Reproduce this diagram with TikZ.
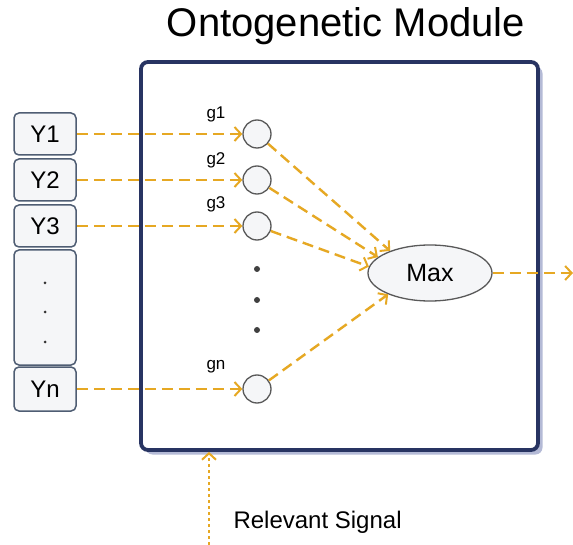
\documentclass[tikz,border=0pt]{standalone}
\usepackage{fontspec}
\setmainfont{Liberation Sans}
\usetikzlibrary{arrows.meta,shapes.geometric,shadows}
\definecolor{navy}{HTML}{283462}
\definecolor{shadowc}{HTML}{B4BAD6}
\definecolor{flowc}{HTML}{E6A823}
\definecolor{boxedge}{HTML}{4F5D73}
\definecolor{nodefill}{HTML}{F5F6F8}
\begin{document}
\begin{tikzpicture}[x=1pt,y=-1pt,
  ybox/.style={draw=boxedge, line width=1.5pt, rounded corners=5pt, fill=nodefill,
    minimum width=62pt, inner sep=0pt, font=\fontsize{24}{28}\selectfont},
  gcirc/.style={circle, draw=black!65, line width=1.3pt, fill=nodefill, minimum size=28pt, inner sep=0pt},
  glabel/.style={font=\fontsize{17}{19}\selectfont, inner sep=0pt},
  flow/.style={draw=flowc, line width=2.4pt, dash pattern=on 11pt off 6pt,
    -{Straight Barb[length=6.5pt,width=14pt,line width=2pt]}},
  sigflow/.style={draw=flowc, line width=2.8pt, dash pattern=on 3.5pt off 2.5pt,
    -{Straight Barb[length=6.5pt,width=14pt,line width=2pt]}},
  maxnode/.style={ellipse, draw=black!65, line width=1.3pt, fill=nodefill, minimum width=124pt,
    minimum height=56pt, inner sep=0pt, font=\fontsize{25}{28}\selectfont},
  module/.style={rectangle, draw=navy, line width=3.8pt, rounded corners=7pt, fill=white,
    minimum width=397pt, minimum height=388pt, inner sep=0pt,
    drop shadow={shadow xshift=4.5pt, shadow yshift=-4.5pt, fill=shadowc, opacity=1}},
  gdot/.style={circle, fill=black!75, minimum size=6pt, inner sep=0pt},
  sdot/.style={circle, fill=black!80, minimum size=3pt, inner sep=0pt}
]
\useasboundingbox (0,0) rectangle (573,545);
\node[font=\fontsize{40}{44}\selectfont] (title) at (346,26) {Ontogenetic Module};
\node[module] (mod) at (339.5,256) {};

\node[ybox, minimum height=42pt] (y1) at (45,134) {Y1};
\node[ybox, minimum height=42pt] (y2) at (45,180) {Y2};
\node[ybox, minimum height=42pt] (y3) at (45,226) {Y3};
\node[ybox, minimum height=115pt] (yd) at (45,307.5) {};
\node[ybox, minimum height=44pt] (yn) at (45,389) {Yn};
\node[sdot] (d1) at (45,283) {};
\node[sdot] (d2) at (45,312) {};
\node[sdot] (d3) at (45,342) {};

\node[gcirc] (g1) at (257,134) {};
\node[gcirc] (g2) at (257,180) {};
\node[gcirc] (g3) at (257,226) {};
\node[gcirc] (gn) at (257,389) {};
\node[glabel] (l1) at (216,114) {g1};
\node[glabel] (l2) at (216,160) {g2};
\node[glabel] (l3) at (216,204) {g3};
\node[glabel] (ln) at (216,367) {gn};
\node[gdot] (e1) at (257,269) {};
\node[gdot] (e2) at (257,300) {};
\node[gdot] (e3) at (257,330) {};

\node[maxnode] (max) at (430,273) {Max};

\draw[flow] (y1) -- (g1);
\draw[flow] (y2) -- (g2);
\draw[flow] (y3) -- (g3);
\draw[flow] (yn) -- (gn);
\draw[flow] (g1) -- (max.151);
\draw[flow] (g2) -- (max.163);
\draw[flow] (g3) -- (max.174);
\draw[flow] (gn) -- (max.207);
\coordinate (out) at (573,273);
\draw[flow] (max) -- (out);

\coordinate (sig) at (209,545);
\draw[sigflow] (sig) -- (sig |- mod.south);
\node[anchor=west, font=\fontsize{24}{28}\selectfont] (rs) at (230,522) {Relevant Signal};
\end{tikzpicture}
\end{document}
